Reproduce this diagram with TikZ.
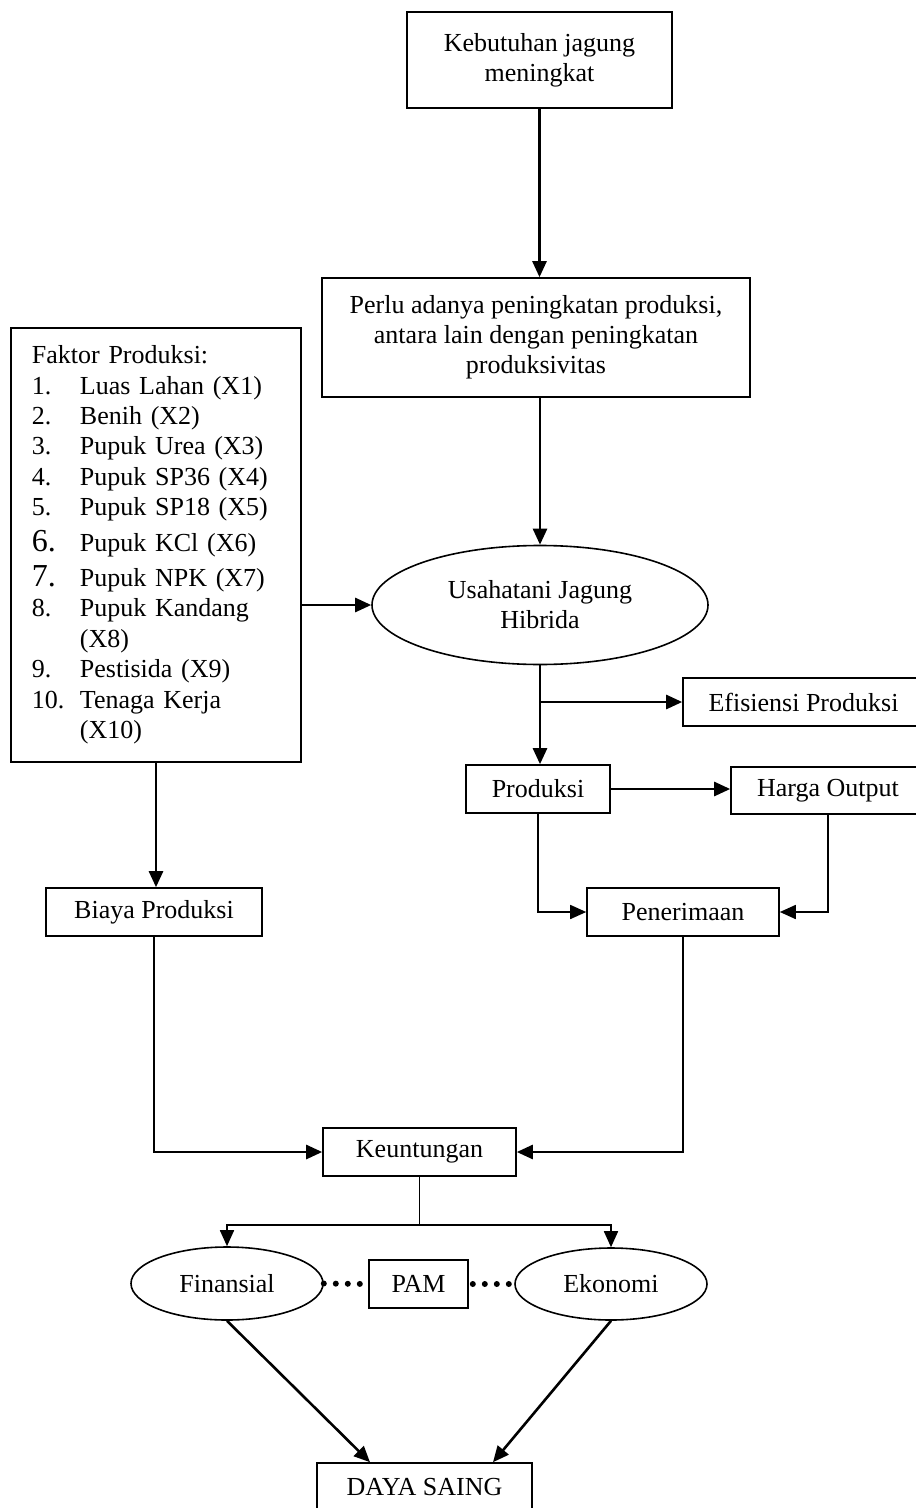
\documentclass[tikz,border=0pt]{standalone}
\usepackage{fontspec}
\setmainfont{Liberation Serif}
\usetikzlibrary{arrows.meta,calc,shapes.geometric}
\begin{document}
\begin{tikzpicture}[x=0.5pt,y=-0.5pt,
  box/.style={draw, line width=0.8pt, rectangle, inner sep=0pt, align=center, font=\fontsize{13}{15}\selectfont},
  oval/.style={draw, ellipse, line width=0.8pt, inner sep=0pt, align=center, font=\fontsize{13}{15}\selectfont},
  tip/.style={-{Triangle[length=8pt,width=7pt]}},
  heavy/.style={line width=1.3pt},
  light/.style={line width=0.85pt},
  dotline/.style={line width=3pt, line cap=round, dash pattern=on 0pt off 6pt}
]
\useasboundingbox (0,0) rectangle (915,1508);

\node[box, minimum width=132.5pt, minimum height=48pt] (keb) at (539.5,60) {Kebutuhan jagung\\meningkat};
\node[box, minimum width=214pt, minimum height=59.5pt] (perlu) at (536,337.5) {Perlu adanya peningkatan produksi,\\antara lain dengan peningkatan\\produksivitas};
\node[box, text width=124pt, inner xsep=10.5pt, minimum height=217pt, align=left, font=\fontsize{13}{15.2}\selectfont] (faktor) at (156,545) {%
\begin{tabular}{@{}p{24pt}@{}l@{}}
\multicolumn{2}{@{}l@{}}{Faktor Produksi:}\\
1. & Luas Lahan (X1)\\
2. & Benih (X2)\\
3. & Pupuk Urea (X3)\\
4. & Pupuk SP36 (X4)\\
5. & Pupuk SP18 (X5)\\[2.5pt]
{\fontsize{16}{15.2}\selectfont 6.} & Pupuk KCl (X6)\\[2.5pt]
{\fontsize{16}{15.2}\selectfont 7.} & Pupuk NPK (X7)\\
8. & Pupuk Kandang\\
 & (X8)\\
9. & Pestisida (X9)\\
10. & Tenaga Kerja\\
 & (X10)
\end{tabular}};
\node[oval, minimum width=168pt, minimum height=59.5pt] (usaha) at (540,605) {Usahatani Jagung\\Hibrida};
\node[box, minimum width=120.5pt, minimum height=24pt] (efis) at (803.5,702) {Efisiensi Produksi};
\node[box, minimum width=72pt, minimum height=24pt] (prod) at (538,789) {Produksi};
\node[box, minimum width=97pt, minimum height=23.5pt] (harga) at (828,790.5) {Harga Output};
\node[box, minimum width=108pt, minimum height=24pt] (biaya) at (154,912) {Biaya Produksi};
\node[box, minimum width=96pt, minimum height=24pt] (pener) at (683,912) {Penerimaan};
\node[box, minimum width=96.5pt, minimum height=24pt] (keun) at (419.5,1152) {Keuntungan};
\node[oval, minimum width=96pt, minimum height=36.5pt] (fin) at (227,1283.5) {Finansial};
\node[box, minimum width=49.5pt, minimum height=24pt] (pam) at (418.5,1284) {PAM};
\node[oval, minimum width=96pt, minimum height=36pt] (eko) at (611,1284) {Ekonomi};
\node[box, minimum width=107.5pt, minimum height=24pt] (daya) at (424.5,1487) {DAYA SAING};

\coordinate (br) at (usaha.south |- efis.west);
\coordinate (split) at ($(keun.south)+(0,48)$);
\coordinate (dayaL) at ($(daya.north)+(-54.5,0)$);
\coordinate (dayaR) at ($(daya.north)+(68.5,0)$);
\coordinate (pamR) at ($(pam.east)+(4,0)$);

\draw[heavy,tip] (keb.south) -- (keb.south |- perlu.north);
\draw[heavy,tip] (perlu.south -| usaha.north) -- (usaha.north);
\draw[heavy,tip] (faktor.east |- usaha.west) -- (usaha.west);
\draw[heavy,tip] (usaha.south) -- (usaha.south |- prod.north);
\draw[heavy,tip] (br) -- (efis.west);
\draw[heavy,tip] (prod.east) -- (prod.east -| harga.west);
\draw[light,tip] (prod.south) |- (pener.west);
\draw[light,tip] (harga.south) |- (pener.east);
\draw[heavy,tip] (faktor.south) -- (faktor.south |- biaya.north);
\draw[heavy,tip] (biaya.south) |- (keun.west);
\draw[heavy,tip] (pener.south) |- (keun.east);
\draw[light] (keun.south) -- (split);
\draw[light,tip] (split) -| (fin.north);
\draw[light,tip] (split) -| (eko.north);
\draw[dotline] (fin.east) -- (pam.west);
\draw[dotline] (pamR) -- (eko.west);
\draw[heavy,tip] (fin.south) -- (dayaL);
\draw[heavy,tip] (eko.south) -- (dayaR);
\end{tikzpicture}
\end{document}
